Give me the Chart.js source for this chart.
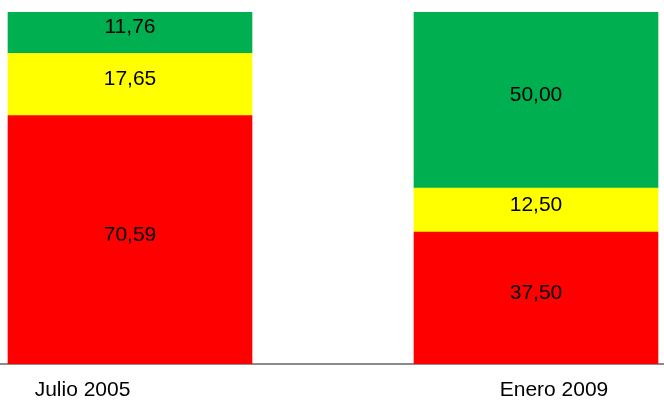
<!DOCTYPE html>
<html>
<head>
<meta charset="utf-8">
<script src="https://cdn.jsdelivr.net/npm/chart.js@4/dist/chart.umd.min.js"></script>
<style>
  html, body { margin: 0; padding: 0; background: #ffffff; overflow: hidden; }
  canvas { display: block; }
</style>
</head>
<body>
<canvas id="c" width="664" height="401"></canvas>
<script>
const categories = ['Julio 2005', 'Enero 2009'];
const rojo = [70.59, 37.50];
const amarillo = [17.65, 12.50];
const verde = [11.76, 50.00];

const FONT = '"Liberation Sans", Arial, sans-serif';

function points(values) {
  return values.map((v, i) => ({ x: i, y: v }));
}

const labelPlugin = {
  id: 'segmentLabels',
  afterDatasetsDraw(chart) {
    const ctx = chart.ctx;
    ctx.save();
    ctx.font = '21px ' + FONT;
    ctx.fillStyle = '#000000';
    ctx.textAlign = 'center';
    ctx.textBaseline = 'middle';
    chart.data.datasets.forEach((ds, di) => {
      const meta = chart.getDatasetMeta(di);
      meta.data.forEach((el, i) => {
        const v = ds.data[i].y;
        const txt = v.toFixed(2).replace('.', ',');
        ctx.fillText(txt, el.x, (el.y + el.base) / 2 - 5);
      });
    });
    ctx.restore();
  }
};

new Chart(document.getElementById('c'), {
  type: 'bar',
  data: {
    datasets: [
      { label: 'Rojo', data: points(rojo), backgroundColor: '#FF0000', xAxisID: 'x', yAxisID: 'y' },
      { label: 'Amarillo', data: points(amarillo), backgroundColor: '#FFFF00', xAxisID: 'x', yAxisID: 'y' },
      { label: 'Verde', data: points(verde), backgroundColor: '#00B050', xAxisID: 'x', yAxisID: 'y' }
    ]
  },
  options: {
    responsive: false,
    animation: false,
    barThickness: 244,
    layout: { padding: { top: 12, left: 0, right: 0, bottom: -16 } },
    plugins: {
      legend: { display: false },
      tooltip: { enabled: false }
    },
    scales: {
      x: {
        type: 'linear',
        stacked: true,
        display: false,
        offset: false,
        grid: { offset: false },
        min: -0.3202,
        max: 1.3153
      },
      xl: {
        type: 'linear',
        position: 'bottom',
        offset: false,
        min: -0.17497,
        max: 1.23330,
        grid: { display: false, drawTicks: false, offset: false },
        border: { display: true, color: '#8c8c8c', width: 2 },
        afterBuildTicks: (scale) => {
          scale.ticks = categories.map((_, i) => ({ value: i }));
        },
        ticks: {
          autoSkip: false,
          maxRotation: 0,
          minRotation: 0,
          padding: 16,
          color: '#000000',
          font: { family: FONT, size: 21, lineHeight: 1 },
          callback: (value) => categories[value]
        }
      },
      y: {
        stacked: true,
        display: false,
        min: 0,
        max: 100
      }
    }
  },
  plugins: [labelPlugin]
});
</script>
</body>
</html>
